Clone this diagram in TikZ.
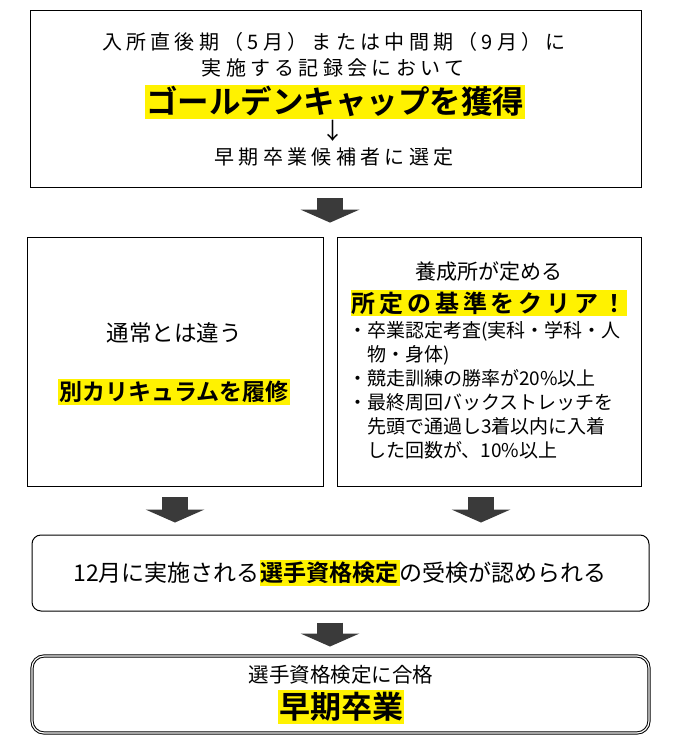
\documentclass[tikz,border=0pt]{standalone}
\usepackage{fontspec}
\setmainfont{Noto Sans CJK JP}[BoldFont={Noto Sans CJK JP Bold}]
\usetikzlibrary{arrows.meta,calc}

\definecolor{hlyellow}{HTML}{FFF200}
\definecolor{arrowgray}{HTML}{3A3A3A}
\setlength{\fboxsep}{1pt}
\newcommand{\hl}[1]{\colorbox{hlyellow}{\rule[-.14em]{0pt}{1.04em}#1}}
\newcommand{\fs}[1]{\fontsize{#1}{#1}\selectfont}
\newcommand{\wide}[1]{\addfontfeatures{LetterSpace=#1}}

\tikzset{
  box/.style={draw, line width=0.8pt, inner sep=0pt},
  bigarrow/.style={draw=arrowgray, line width=26pt,
    -{Triangle[width=59pt 0 0, length=13pt 0 0, line width=0pt 0 0]}},
}

\begin{document}
\begin{tikzpicture}[x=1pt,y=-1pt]
  \useasboundingbox (0,0) rectangle (686,749);

  % Boxes
  \node[box, minimum width=611pt, minimum height=177pt] (top) at (335.5,98.5) {};
  \node[box, minimum width=296pt, minimum height=249pt] (lbox) at (175,361.5) {};
  \node[box, minimum width=304pt, minimum height=249pt] (rbox) at (489,361.5) {};
  \node[box, line width=1pt, rounded corners=9pt,
    minimum width=617pt, minimum height=76pt] (exam) at (340.5,573) {};
  \node[box, line width=1pt, double, double distance=1.2pt, rounded corners=12pt,
    minimum width=617pt, minimum height=77pt] (grad) at (340.5,694.5) {};

  % Texts (top)
  \node (period) at (334,42) {\fs{20}\wide{21.5}入所直後期（5月）または中間期（9月）に};
  \node (meet) at (333,68) {\fs{20}\wide{21.5}実施する記録会において};
  \node (cap) at (335,102) {\fs{31.5}\bfseries\hl{ゴールデンキャップを獲得}};
  \node (down) at (333,131) {\fs{23}↓};
  \node (cand) at (334,157) {\fs{20}\wide{21.5}早期卒業候補者に選定};

  % Texts (left)
  \node (usual) at (174,333) {\fs{22.5}通常とは違う};
  \node (curr) at (174,392) {\fs{23}\bfseries\hl{別カリキュラムを履修}};

  % Texts (right)
  \node (school) at (489,272) {\fs{21}養成所が定める};
  \node (clear) at (489,303) {\fs{24}\bfseries\wide{16}\hl{所定の基準をクリア！}};
  \node[anchor=north west, align=left, inner sep=0pt,
    font=\fontsize{19}{24}\selectfont] (rules) at (348,321)
    {・卒業認定考査(実科・学科・人\\
     \phantom{・}物・身体)\\
     ・競走訓練の勝率が20\%以上\\
     ・最終周回バックストレッチを\\
     \phantom{・}先頭で通過し3着以内に入着\\
     \phantom{・}した回数が、10\%以上};

  % Texts (bottom)
  \node (allow) at (340,573)
    {\fs{23}12月に実施される{\bfseries\hl{選手資格検定}}の受検が認められる};
  \node (pass) at (341,675) {\fs{20.5}選手資格検定に合格};
  \node (early) at (341,707) {\fs{31}\bfseries\hl{早期卒業}};

  % Arrows
  \coordinate (gap) at ($(lbox.north east)!.5!(rbox.north west)$);
  \coordinate (rdrop) at ([xshift=-8pt]rbox.south);
  \draw[bigarrow, shorten <=11pt, shorten >=14pt] (top.south -| gap) -- (gap);
  \draw[bigarrow, shorten <=11pt, shorten >=12pt] (lbox.south) -- (lbox.south |- exam.north);
  \draw[bigarrow, shorten <=11pt, shorten >=12pt] (rdrop) -- (rdrop |- exam.north);
  \draw[bigarrow, shorten <=11pt, shorten >=9pt] (exam.south -| gap) -- (grad.north -| gap);
\end{tikzpicture}
\end{document}
